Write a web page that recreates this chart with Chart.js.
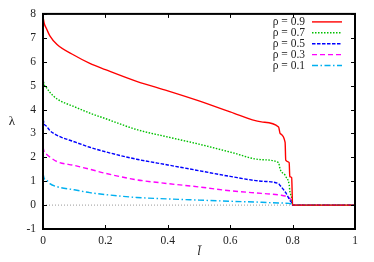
<!DOCTYPE html>
<html>
<head>
<meta charset="utf-8">
<script src="https://cdn.jsdelivr.net/npm/chart.js@4"></script>
<style>
  html, body { margin: 0; padding: 0; background: #fff; }
  #wrap { width: 374px; height: 262px; }
</style>
</head>
<body>
<div id="wrap"><canvas id="chart"></canvas></div>
<script>
// l-bar positions shared by all curves (a few close pairs give the steep drops near 0.8)
const xs = [0, 0.004, 0.012, 0.022, 0.045, 0.1, 0.15, 0.2, 0.3, 0.4, 0.5, 0.6, 0.7, 0.755, 0.76, 0.776, 0.778, 0.789, 0.791, 0.797, 0.8, 1];

const rho09 = [7.88, 7.6, 7.36, 7.08, 6.72, 6.27, 5.93, 5.67, 5.18, 4.78, 4.36, 3.9, 3.48, 3.27, 3.0, 2.62, 1.88, 1.78, 1.2, 1.15, 0, 0];
const rho07 = [5.28, 5.04, 4.9, 4.72, 4.44, 4.12, 3.85, 3.62, 3.16, 2.85, 2.55, 2.22, 1.9, 1.78, 1.5, 1.25, 1.2, 0.85, 0.6, 0.3, 0, 0];
const rho05 = [3.6, 3.4, 3.29, 3.12, 2.92, 2.65, 2.42, 2.23, 1.92, 1.68, 1.44, 1.2, 1.0, 0.9, 0.82, 0.56, 0.52, 0.25, 0.2, 0.1, 0, 0];
const rho03 = [2.43, 2.22, 2.12, 2.01, 1.82, 1.66, 1.5, 1.33, 1.06, 0.9, 0.76, 0.6, 0.49, 0.43, 0.42, 0.38, 0.37, 0.3, 0.28, 0.15, 0, 0];
const rho01 = [1.32, 1.11, 1.04, 0.9, 0.77, 0.64, 0.52, 0.44, 0.32, 0.26, 0.21, 0.16, 0.12, 0.09, 0.09, 0.08, 0.08, 0.07, 0.06, 0.04, 0, 0];

const zeroX = [0, 1];
const zeroY = [0, 0];

const seriesLabels = ['ρ = 0.9', 'ρ = 0.7', 'ρ = 0.5', 'ρ = 0.3', 'ρ = 0.1'];
const xTicks = [0, 0.2, 0.4, 0.6, 0.8, 1];
const yTicks = [-1, 0, 1, 2, 3, 4, 5, 6, 7, 8];

const colors = ['#ff0000', '#00c000', '#0000ff', '#ff00ff', '#00b0f0'];
const dashes = [[], [1.5, 1.5], [3.5, 1.5], [5, 3], [6, 2.5, 1.5, 2.5]];
const serif = "'Liberation Serif', 'Times New Roman', 'DejaVu Serif', serif";

function toPoints(xv, yv) {
  return xv.map((x, i) => ({ x: x, y: yv[i] }));
}

const allY = [rho09, rho07, rho05, rho03, rho01];
const datasets = allY.map((ys, i) => ({
  label: seriesLabels[i],
  data: toPoints(xs, ys),
  borderColor: colors[i],
  borderDash: dashes[i],
  borderWidth: 1.4,
  pointRadius: 0,
  fill: false,
  cubicInterpolationMode: 'monotone'
}));
datasets.push({
  label: 'zero',
  data: toPoints(zeroX, zeroY),
  borderColor: '#999',
  borderDash: [1, 2],
  borderWidth: 1,
  pointRadius: 0
});

const frame = {
  id: 'frame',
  afterDatasetsDraw(chart) {
    const ctx = chart.ctx;
    const a = chart.chartArea;
    const x = chart.scales.x, y = chart.scales.y;
    ctx.save();
    ctx.strokeStyle = '#000';
    ctx.lineWidth = 1;
    ctx.beginPath();
    xTicks.forEach(v => {
      const px = Math.round(x.getPixelForValue(v)) + 0.5;
      ctx.moveTo(px, a.bottom); ctx.lineTo(px, a.bottom - 4);
      ctx.moveTo(px, a.top); ctx.lineTo(px, a.top + 4);
    });
    yTicks.forEach(v => {
      const py = Math.round(y.getPixelForValue(v)) + 0.5;
      ctx.moveTo(a.left, py); ctx.lineTo(a.left + 4, py);
      ctx.moveTo(a.right, py); ctx.lineTo(a.right - 4, py);
    });
    ctx.stroke();
    ctx.lineWidth = 2;
    ctx.strokeRect(a.left, a.top, a.right - a.left, a.bottom - a.top);

    // legend, text left of the line sample
    ctx.font = '11.5px ' + serif;
    ctx.textAlign = 'right';
    ctx.textBaseline = 'middle';
    chart.data.datasets.slice(0, seriesLabels.length).forEach((ds, i) => {
      const ry = a.top + 8 + i * 10.9;
      ctx.fillStyle = '#222';
      ctx.fillText(ds.label, a.right - 50, ry);
      ctx.strokeStyle = ds.borderColor;
      ctx.lineWidth = 1.4;
      ctx.setLineDash(ds.borderDash);
      ctx.beginPath();
      ctx.moveTo(a.right - 43, ry);
      ctx.lineTo(a.right - 13, ry);
      ctx.stroke();
      ctx.setLineDash([]);
    });

    // axis titles
    ctx.fillStyle = '#222';
    ctx.textAlign = 'center';
    ctx.font = '13px ' + serif;
    ctx.fillText('λ', 12, (a.top + a.bottom) / 2);
    ctx.font = 'italic 13px ' + serif;
    ctx.fillText('l\u0304', (a.left + a.right) / 2, 252);
    ctx.restore();
  }
};

new Chart(document.getElementById('chart'), {
  type: 'line',
  data: { datasets: datasets },
  options: {
    responsive: true,
    maintainAspectRatio: false,
    animation: false,
    layout: { padding: { top: 13, right: 19, left: 0, bottom: 0 } },
    plugins: { legend: { display: false }, tooltip: { enabled: false } },
    scales: {
      x: {
        type: 'linear',
        min: 0, max: 1,
        grid: { display: false, drawTicks: false },
        border: { display: false },
        afterBuildTicks: s => { s.ticks = xTicks.map(v => ({ value: v })); },
        afterFit: s => { s.height = 33; },
        ticks: {
          padding: 5,
          color: '#222',
          font: { family: serif, size: 11.5 },
          callback: v => String(+v.toFixed(1))
        }
      },
      y: {
        type: 'linear',
        min: -1, max: 8,
        grid: { display: false, drawTicks: false },
        border: { display: false },
        afterBuildTicks: s => { s.ticks = yTicks.map(v => ({ value: v })); },
        afterFit: s => { s.width = 43; },
        ticks: {
          padding: 7,
          color: '#222',
          font: { family: serif, size: 11.5 },
          callback: v => String(v)
        }
      }
    }
  },
  plugins: [frame]
});
</script>
</body>
</html>
